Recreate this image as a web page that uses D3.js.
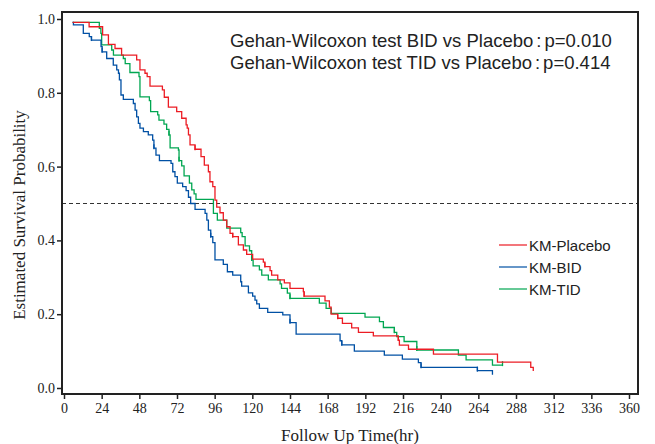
<!DOCTYPE html>
<html><head><meta charset="utf-8">
<script src="https://cdn.jsdelivr.net/npm/d3@7"></script>
<style>body{margin:0;background:#fff}svg{display:block}</style>
</head><body>
<svg id="c" width="655" height="444"></svg>
<script>
// ---- data ----
const xTicks = [0,24,48,72,96,120,144,168,192,216,240,264,288,312,336,360];
const yTicks = [0,0.2,0.4,0.6,0.8,1.0];
const seriesNames = ["KM-Placebo","KM-BID","KM-TID"];
const seriesColors = ["#ec1c24","#0050a4","#00a651"];
const annot = [["Gehan-Wilcoxon test BID vs Placebo","p=0.010"],["Gehan-Wilcoxon test TID vs Placebo","p=0.414"]];

const placeboT = [5.5,16,24.6,28.3,32.5,36.7,46.3,48.4,51.6,53,54.8,62.7,63.9,66.5,71.8,75,77.8,78.5,79.3,80.3,83.5,87.3,89.4,92,93,94.8,96.2,97.3,99.4,101.5,103.7,105.8,107.5,111.1,114.3,116.4,120.2,127,128,131.3,132.3,136.2,140.4,144,152.5,153,166.3,169.1,170.2,174.4,177.4,183.3,187.6,197.1,213,213.7,219.5,235.4,276.2,297.4,299];
const placeboS = [0.991,0.979,0.957,0.931,0.920,0.902,0.889,0.862,0.853,0.844,0.818,0.808,0.788,0.761,0.749,0.731,0.713,0.704,0.686,0.659,0.647,0.627,0.604,0.586,0.559,0.546,0.509,0.490,0.475,0.455,0.437,0.419,0.410,0.388,0.374,0.362,0.349,0.341,0.329,0.318,0.306,0.293,0.285,0.270,0.261,0.249,0.236,0.219,0.200,0.189,0.175,0.163,0.151,0.141,0.130,0.116,0.105,0.092,0.070,0.056,0.046];
const placeboEnd = 299;
const placeboCens = [83.5,107.5,128,153,174.4,213];

const bidT = [5.5,6,12.3,16.1,17.5,23.6,24.3,27.2,31.4,33.6,34.7,35.3,36.3,37.8,44.2,45.3,46.3,47.4,48.4,50.6,53.7,56.5,57.3,58.6,60.8,68.2,69.3,70.7,72.2,75.6,77.8,79.3,80.7,83.5,89.9,91,92,93.5,94.8,96.2,101.5,104.1,107.5,112.6,113.2,117.5,120.2,121.7,122.8,124.5,129.8,139.4,144,147.9,175.9,177,185,204.1,215.6,225.8,227.5,263.4,273];
const bidS = [0.991,0.984,0.961,0.952,0.943,0.925,0.911,0.893,0.875,0.862,0.853,0.835,0.794,0.782,0.771,0.753,0.735,0.717,0.704,0.695,0.686,0.672,0.650,0.631,0.616,0.609,0.586,0.573,0.555,0.546,0.535,0.517,0.500,0.484,0.473,0.455,0.428,0.410,0.394,0.347,0.335,0.315,0.306,0.288,0.276,0.258,0.249,0.238,0.228,0.216,0.205,0.198,0.177,0.146,0.128,0.117,0.100,0.089,0.078,0.069,0.056,0.047,0.036];
const bidEnd = 273;
const bidCens = [17.5,24.3,57.3,93.5,144,177,227.5,263.4];

const tidT = [5.5,22.5,23.5,24,30.4,31.5,37.8,39,42,47.8,48.4,54.4,55.2,59.7,60.5,63.7,65.4,66.9,67.6,72.9,73.3,75,76.5,79.9,81.4,82.9,84.1,95.2,97.7,103.7,112.6,113.5,115.4,118.2,119.6,120.5,124.5,126,130.2,137.7,138.6,142.3,144,162.7,167,170.2,191.8,201,203.5,210.5,212,216.7,224.8,251.3,256.2,273];
const tidS = [0.991,0.975,0.961,0.930,0.916,0.902,0.893,0.879,0.855,0.844,0.789,0.779,0.749,0.740,0.726,0.715,0.701,0.686,0.651,0.645,0.616,0.602,0.575,0.555,0.537,0.526,0.511,0.473,0.455,0.433,0.421,0.410,0.385,0.372,0.347,0.331,0.320,0.306,0.293,0.282,0.270,0.257,0.243,0.230,0.216,0.202,0.192,0.180,0.164,0.151,0.139,0.126,0.103,0.089,0.076,0.062];
const tidEnd = 279.4;
const tidCens = [66.9,73.3,119.6,144,210.5,224.8,279.4];

// ---- chart ----
const svg = d3.select("#c");
const x = d3.scaleLinear().domain([0,360]).range([64,629]);
const y = d3.scaleLinear().domain([0,1]).range([388,19]);
const frame = {l:62,t:12,r:638,b:394};

const series = [
  {T:tidT,S:tidS,end:tidEnd,cens:tidCens,color:seriesColors[2]},
  {T:bidT,S:bidS,end:bidEnd,cens:bidCens,color:seriesColors[1]},
  {T:placeboT,S:placeboS,end:placeboEnd,cens:placeboCens,color:seriesColors[0]}
];

const serif = "'Liberation Serif','DejaVu Serif',serif";
const sans = "'Liberation Sans',Arial,sans-serif";

// dashed median line
svg.append("line").attr("x1",frame.l).attr("x2",frame.r)
  .attr("y1",y(0.5)).attr("y2",y(0.5))
  .attr("stroke","#333").attr("stroke-width",1.2).attr("stroke-dasharray","4,3");

const line = d3.line().x(d=>x(d[0])).y(d=>y(d[1])).curve(d3.curveStepAfter);
function survAt(s,t){let v=s.S[0];for(let i=0;i<s.T.length;i++){if(s.T[i]<=t)v=s.S[i];}return v;}

series.forEach(s=>{
  const pts = s.T.map((t,i)=>[t,s.S[i]]);
  pts.push([s.end,s.S[s.S.length-1]]);
  svg.append("path").attr("d",line(pts)).attr("fill","none")
    .attr("stroke",s.color).attr("stroke-width",1.3);
  svg.selectAll(null).data(s.cens).enter().append("line")
    .attr("x1",d=>x(d)).attr("x2",d=>x(d))
    .attr("y1",d=>y(survAt(s,d))-4).attr("y2",d=>y(survAt(s,d))+1)
    .attr("stroke",s.color).attr("stroke-width",1.3);
});

// frame
svg.append("rect").attr("x",frame.l).attr("y",frame.t)
  .attr("width",frame.r-frame.l).attr("height",frame.b-frame.t)
  .attr("fill","none").attr("stroke","#222").attr("stroke-width",2);

// axes
const ya = svg.append("g").attr("transform",`translate(${frame.l},0)`)
  .call(d3.axisLeft(y).tickValues(yTicks).tickFormat(d3.format(".1f")).tickSize(5).tickPadding(2));
const xa = svg.append("g").attr("transform",`translate(0,${frame.b})`)
  .call(d3.axisBottom(x).tickValues(xTicks).tickSize(5).tickPadding(4));
[ya,xa].forEach(g=>{
  g.select(".domain").remove();
  g.selectAll("line").attr("stroke","#222").attr("stroke-width",1.5);
  g.selectAll("text").attr("font-family",serif).attr("font-size",14).attr("fill","#222");
});

// axis titles
svg.append("text").attr("x",(frame.l+frame.r)/2).attr("y",441)
  .attr("text-anchor","middle").attr("font-family",serif).attr("font-size",17).attr("fill","#222")
  .text("Follow Up Time(hr)");
svg.append("text").attr("transform","translate(25,215) rotate(-90)")
  .attr("text-anchor","middle").attr("font-family",serif).attr("font-size",17).attr("fill","#222")
  .text("Estimated Survival Probability");

// annotation
annot.forEach((a,i)=>{
  const t = svg.append("text").attr("x",230).attr("y",47+i*21.5)
    .attr("font-family",sans).attr("font-size",18.5).attr("fill","#222");
  t.append("tspan").text(a[0]);
  t.append("tspan").attr("dx",3).text(":");
  t.append("tspan").attr("dx",3).text(a[1]);
});

// legend
const leg = [0,1,2];
leg.forEach(i=>{
  const yy = 245 + i*22;
  svg.append("line").attr("x1",499).attr("x2",527).attr("y1",yy).attr("y2",yy)
    .attr("stroke",seriesColors[i]).attr("stroke-width",1.2);
  svg.append("text").attr("x",529).attr("y",yy+5.5)
    .attr("font-family",sans).attr("font-size",15).attr("fill","#222").text(seriesNames[i]);
});
</script>
</body></html>
